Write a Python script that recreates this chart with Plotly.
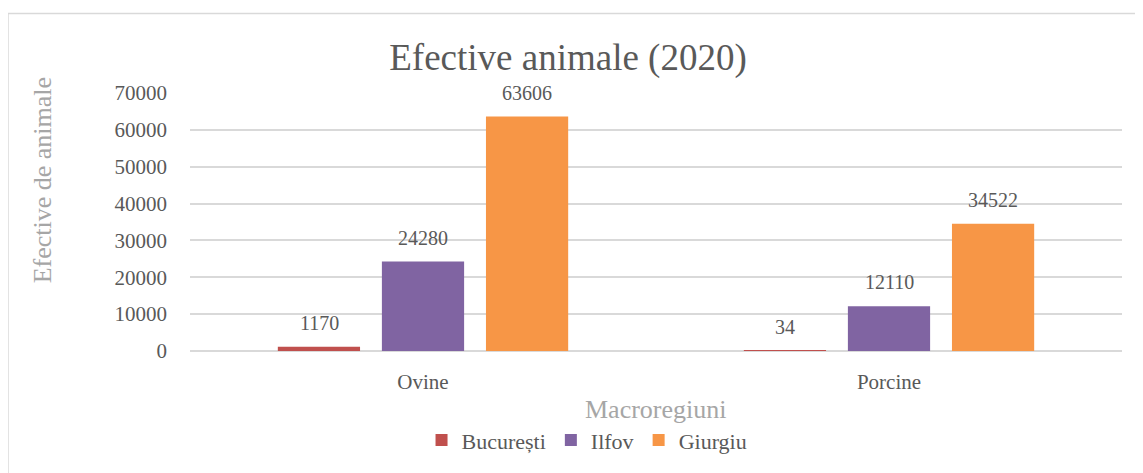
import plotly.graph_objects as go

categories = ['Ovine', 'Porcine']
bucuresti = [1170, 34]
ilfov = [24280, 12110]
giurgiu = [63606, 34522]

series = [
    ('București', bucuresti, '#C0504D'),
    ('Ilfov', ilfov, '#8064A2'),
    ('Giurgiu', giurgiu, '#F79646'),
]

font_family = 'Liberation Serif'
text_color = '#595959'
grid_color = '#D9D9D9'

fig = go.Figure()
for name, vals, color in series:
    fig.add_trace(go.Bar(
        x=categories,
        y=vals,
        name=name,
        marker_color=color,
        marker_line_width=0,
    ))

# data labels placed above the bars, offset per series within the group
annotations = []
offsets = [-104, 0, 104]
for (name, vals, color), off in zip(series, offsets):
    for cat, v in zip(categories, vals):
        annotations.append(dict(
            x=cat, y=v, xref='x', yref='y',
            text=str(v), showarrow=False,
            xshift=off, yshift=24,
            font=dict(family=font_family, size=20, color=text_color),
        ))

annotations.append(dict(
    x=0.5, y=-0.227, xref='paper', yref='paper',
    xanchor='center', yanchor='middle',
    text='Macroregiuni', showarrow=False,
    font=dict(family=font_family, size=26, color='#A6A6A6'),
))
annotations.append(dict(
    x=-0.1588, y=0.6615, xref='paper', yref='paper',
    xanchor='center', yanchor='middle',
    text='Efective de animale', showarrow=False, textangle=-90,
    font=dict(family=font_family, size=26, color='#A6A6A6'),
))

fig.update_layout(
    width=1135, height=465,
    margin=dict(l=182, r=21, t=85, b=120),
    paper_bgcolor='white',
    plot_bgcolor='white',
    font=dict(family=font_family, color=text_color, size=20),
    title=dict(
        text='Efective animale (2020)',
        x=0.4934, xanchor='center',
        y=0.8946, yanchor='middle',
        font=dict(family=font_family, size=37, color=text_color),
    ),
    barmode='group',
    bargap=0.33,
    bargroupgap=0.21,
    showlegend=True,
    legend=dict(
        orientation='h',
        x=0.426, xanchor='center',
        y=-0.346, yanchor='middle',
        font=dict(family=font_family, size=22, color=text_color),
        itemwidth=30,
        traceorder='normal',
    ),
    annotations=annotations,
    shapes=[dict(
        type='rect', xref='paper', yref='paper',
        x0=-0.1953, x1=1.04, y0=-0.6, y1=1.3077,
        line=dict(color=grid_color, width=1.5),
        fillcolor='rgba(0,0,0,0)', layer='below',
    )],
)

fig.update_yaxes(
    range=[0, 70000],
    dtick=10000,
    showgrid=True,
    gridcolor=grid_color,
    gridwidth=1.5,
    zeroline=True,
    zerolinecolor=grid_color,
    zerolinewidth=1.5,
    tickfont=dict(family=font_family, size=21, color=text_color),
    ticklabelstandoff=22,
    tickformat='d',
)
fig.update_xaxes(
    showgrid=False,
    showline=False,
    tickfont=dict(family=font_family, size=21, color=text_color),
    ticklabelstandoff=16,
)

fig.write_html('out.html')
